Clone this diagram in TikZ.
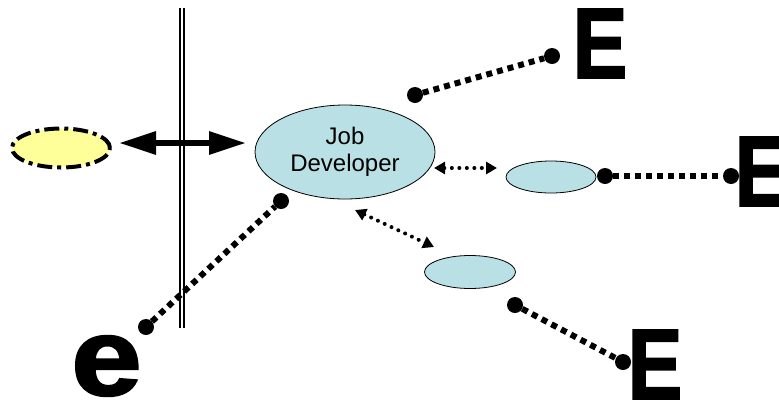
\documentclass[tikz,border=0pt]{standalone}
\usepackage{fontspec}
\usepackage{graphicx}
\setmainfont{Liberation Sans}
\newfontfamily\heavyfont{Liberation Sans Bold}[FakeBold=2]
\usetikzlibrary{shapes.geometric,arrows.meta}

\definecolor{roleblue}{RGB}{185,224,228}
\definecolor{actoryellow}{RGB}{255,255,153}

\tikzset{
  role/.style={ellipse, draw=black, line width=0.8pt, fill=roleblue, inner sep=0pt},
  actor/.style={ellipse, draw=black, line width=4pt, fill=actoryellow, inner sep=0pt,
    dash pattern=on 15pt off 5pt on 4pt off 5pt},
  endpoint/.style={circle, fill=black, draw=none, minimum size=16pt, inner sep=0pt},
  link/.style={line width=6pt, dash pattern=on 6pt off 5pt},
  bigarrow/.style={line width=6pt, {Triangle[length=37pt,width=22pt]}-{Triangle[length=37pt,width=22pt]}},
  smallarrow/.style={line width=4pt, line cap=round, dash pattern=on 0pt off 7.5pt,
    {Triangle[length=11pt,width=12pt]}-{Triangle[length=11pt,width=12pt]}},
  bigletter/.style={inner sep=0pt, font=\fontsize{100}{100}\heavyfont},
}

\begin{document}
\begin{tikzpicture}[x=1pt, y=-1pt]
  \useasboundingbox (0,0) rectangle (779,405);

  % system boundary
  \coordinate (wall-top) at (182,8);
  \coordinate (wall-bot) at (182,328);
  \draw[double, double distance=2pt, line width=2pt] (wall-top) -- (wall-bot);

  % actors and roles
  \node[actor, minimum width=98pt, minimum height=39pt] (ext) at (61,148) {};
  \node[role, minimum width=180pt, minimum height=94pt, align=center,
        font=\fontsize{24}{27}\selectfont] (jd) at (345,152) {Job\\Developer};
  \node[role, minimum width=90pt, minimum height=32pt] (r1) at (551,177) {};
  \node[role, minimum width=91pt, minimum height=33pt] (r2) at (470,272) {};

  % letters
  \node[bigletter] (eA) at (600,43.5) {\scalebox{0.82}[1]{E}};
  \node[bigletter] (eB) at (762,171.5) {\scalebox{0.82}[1]{E}};
  \node[bigletter] (eC) at (655,364.5) {\scalebox{0.82}[1]{E}};
  \node[inner sep=0pt, font=\fontsize{110}{110}\heavyfont] (eD) at (106.5,366) {\scalebox{1.15}[1]{e}};

  % interaction arrows
  \coordinate (ba-l) at (119,143);
  \coordinate (ba-r) at (246,143);
  \draw[bigarrow] (ba-l) -- (ba-r);

  \coordinate (sa1-l) at (434,168);
  \coordinate (sa1-r) at (497,168);
  \draw[smallarrow] (sa1-l) -- (sa1-r);

  \coordinate (sa2-a) at (355,210);
  \coordinate (sa2-b) at (434,247);
  \draw[smallarrow] (sa2-a) -- (sa2-b);

  % links with end points
  \node[endpoint] (p1a) at (415,95) {};
  \node[endpoint] (p1b) at (552,56) {};
  \draw[link] (p1a) -- (p1b);

  \node[endpoint] (p2a) at (605,176) {};
  \node[endpoint] (p2b) at (731,176) {};
  \draw[link] (p2a) -- (p2b);

  \node[endpoint] (p3a) at (515,305) {};
  \node[endpoint] (p3b) at (623,362) {};
  \draw[link] (p3a) -- (p3b);

  \node[endpoint] (p4a) at (146,327) {};
  \node[endpoint] (p4b) at (281,201) {};
  \draw[link] (p4a) -- (p4b);
\end{tikzpicture}
\end{document}
